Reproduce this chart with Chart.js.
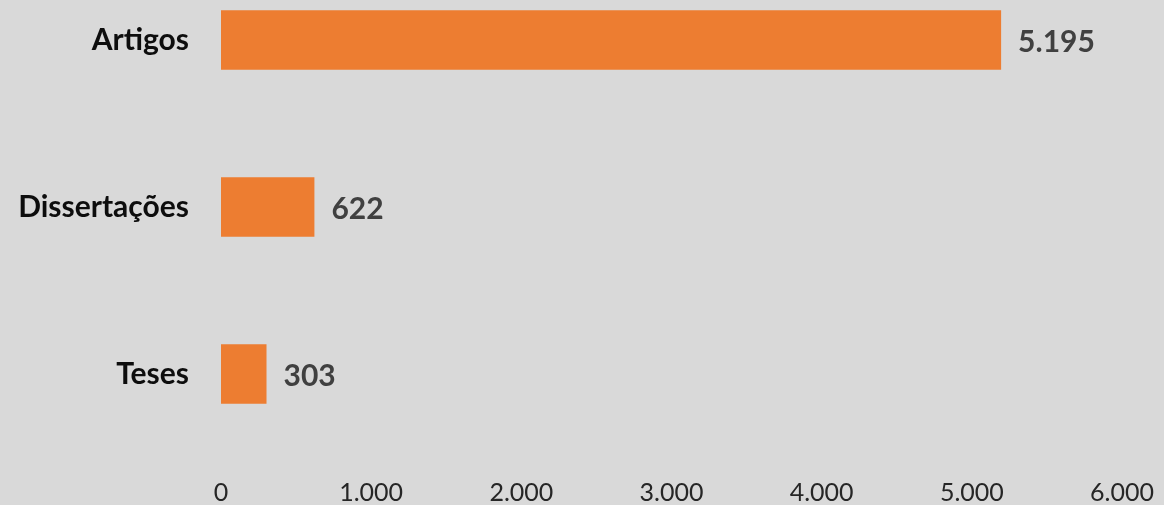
<!DOCTYPE html>
<html>
<head>
<meta charset="utf-8">
<script src="https://cdn.jsdelivr.net/npm/chart.js@4/dist/chart.umd.min.js"></script>
<style>
  html, body { margin: 0; padding: 0; background: #d9d9d9; }
  #wrap { position: relative; width: 1164px; height: 505px; }
</style>
</head>
<body>
<div id="wrap"><canvas id="grafico"></canvas></div>
<script>
// dados do gráfico
const categorias = ['Artigos', 'Dissertações', 'Teses'];
const quantidades = [5195, 622, 303];
const ticksX = [0, 1000, 2000, 3000, 4000, 5000, 6000];

// separador de milhar com ponto (pt-BR)
function fmt(v) {
  return String(v).replace(/\B(?=(\d{3})+(?!\d))/g, '.');
}

// rótulos de valor ao lado das barras
const rotulosValor = {
  id: 'rotulosValor',
  afterDatasetsDraw(chart) {
    const ctx = chart.ctx;
    const meta = chart.getDatasetMeta(0);
    ctx.save();
    ctx.font = 'bold 30px Lato';
    ctx.fillStyle = '#404040';
    ctx.textAlign = 'left';
    ctx.textBaseline = 'middle';
    meta.data.forEach((bar, i) => {
      ctx.fillText(fmt(quantidades[i]), bar.x + 17, bar.y + 2);
    });
    ctx.restore();
  }
};

new Chart(document.getElementById('grafico'), {
  type: 'bar',
  data: {
    labels: categorias,
    datasets: [{
      data: quantidades,
      backgroundColor: '#ed7d31',
      borderWidth: 0,
      barPercentage: 0.355,
      categoryPercentage: 1,
      clip: false
    }]
  },
  options: {
    indexAxis: 'y',
    responsive: true,
    maintainAspectRatio: false,
    animation: false,
    layout: { padding: { top: 40, right: 42, left: 0, bottom: 0 } },
    plugins: {
      legend: { display: false },
      tooltip: { enabled: false }
    },
    scales: {
      y: {
        offset: false,
        // tickLength no lugar de padding para não inflar o espaço em cima/embaixo
        grid: { display: false, drawTicks: true, tickLength: 32 },
        border: { display: false },
        ticks: {
          padding: 0,
          color: '#0d0d0d',
          font: { family: 'Lato', size: 30, weight: 'bold' }
        },
        afterFit(scale) { scale.width = 221; }
      },
      x: {
        min: 0,
        max: 6000,
        afterBuildTicks(scale) { scale.ticks = ticksX.map(v => ({ value: v })); },
        grid: { display: false, drawTicks: true, tickLength: 104 },
        border: { display: false },
        ticks: {
          padding: 0,
          color: '#262626',
          font: { family: 'Lato', size: 25 },
          callback: v => fmt(v)
        },
        afterFit(scale) { scale.height = 131; }
      }
    }
  },
  plugins: [rotulosValor]
});
</script>
</body>
</html>
